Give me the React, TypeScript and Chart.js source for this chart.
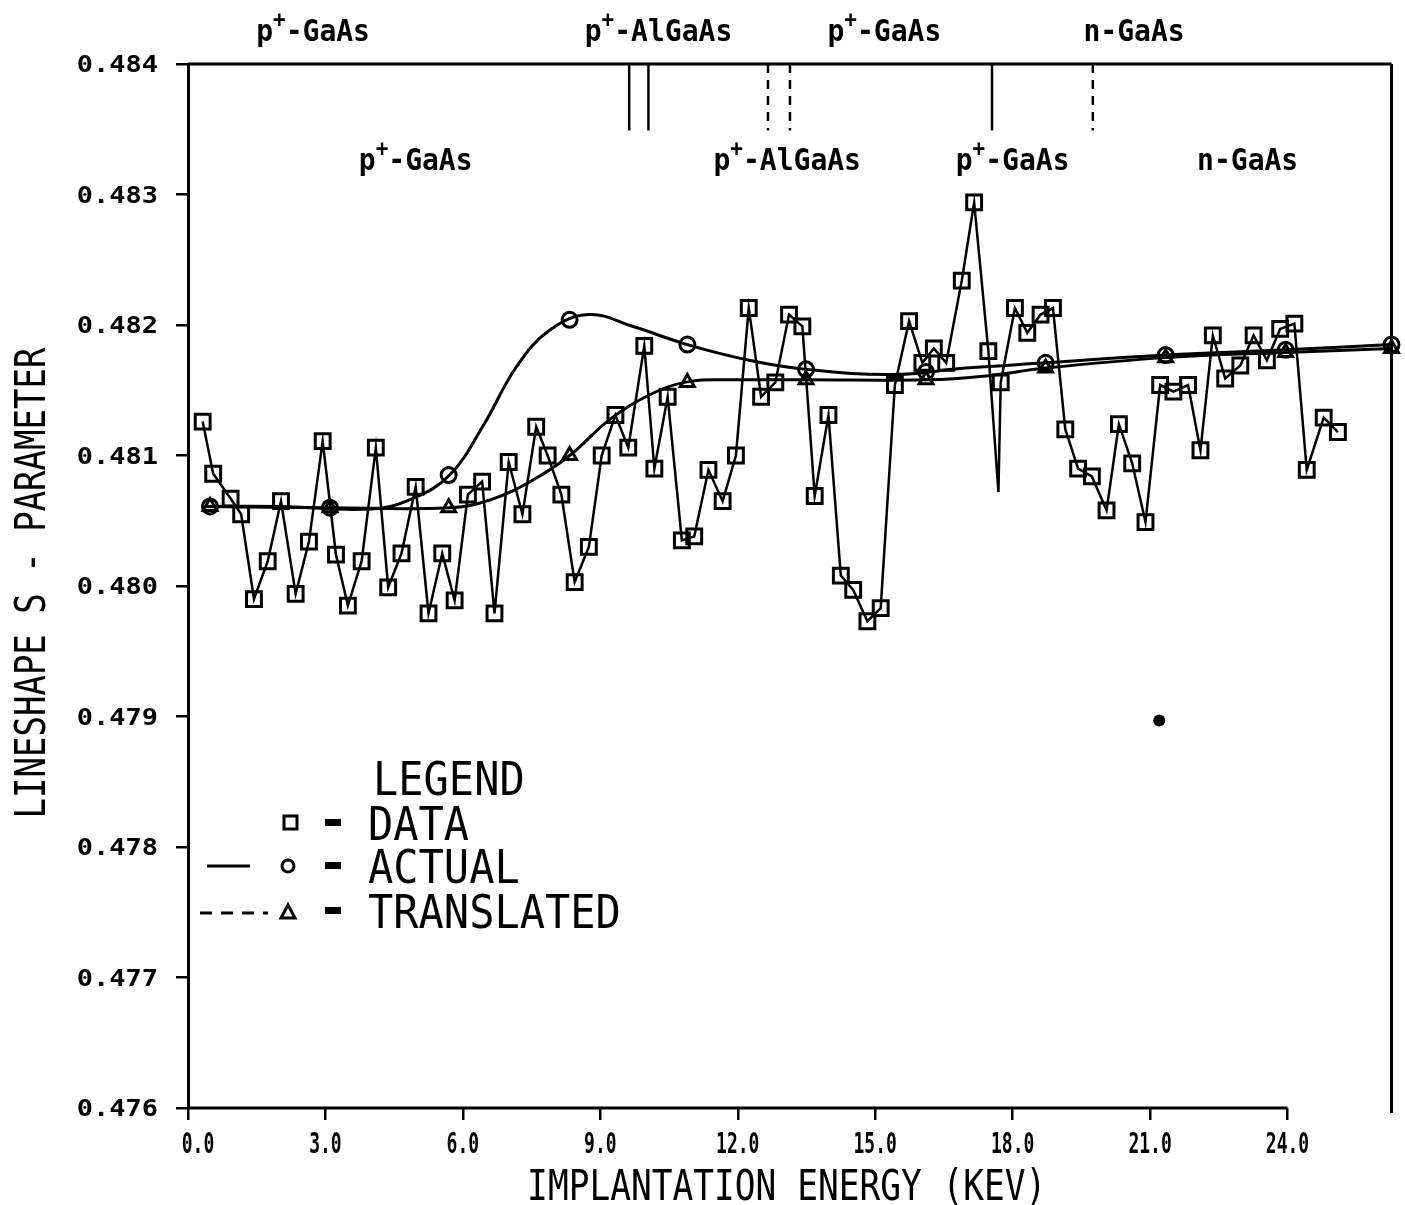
import React, { useEffect, useRef } from "react";
import { Chart, registerables } from "chart.js";
Chart.register(...registerables);

// ---------- data ----------
const DATA_X = [
  0.32, 0.55, 0.93, 1.16, 1.44, 1.74, 2.03, 2.35, 2.64, 2.94,
  3.23, 3.49, 3.79, 4.10, 4.37, 4.66, 4.97, 5.25, 5.55, 5.82,
  6.11, 6.42, 6.69, 7.00, 7.30, 7.60, 7.85, 8.15, 8.44, 8.75,
  9.03, 9.33, 9.61, 9.96, 10.18, 10.47, 10.78, 11.05, 11.36, 11.67,
  11.96, 12.24, 12.51, 12.82, 13.12, 13.41, 13.68, 13.98, 14.25, 14.52,
  14.83, 15.12, 15.43, 15.74, 16.03, 16.28, 16.55, 16.89, 17.16, 17.47,
  17.69, 17.74, 18.05, 18.32, 18.61, 18.88, 19.15, 19.43, 19.73, 20.05,
  20.32, 20.61, 20.90, 21.22, 21.51, 21.83, 22.10, 22.37, 22.64, 22.97,
  23.26, 23.55, 23.84, 24.15, 24.42, 24.79, 25.10,
];
const DATA_Y = [
  0.48126, 0.48086, 0.48067, 0.48055, 0.47990, 0.48019, 0.48065, 0.47994, 0.48034, 0.48111,
  0.48024, 0.47985, 0.48019, 0.48106, 0.47999, 0.48025, 0.48076, 0.47979, 0.48025, 0.47989,
  0.48070, 0.48080, 0.47979, 0.48095, 0.48055, 0.48122, 0.48100, 0.48070, 0.48003, 0.48030,
  0.48100, 0.48131, 0.48106, 0.48184, 0.48090, 0.48145, 0.48035, 0.48038, 0.48089, 0.48065,
  0.48100, 0.48213, 0.48145, 0.48156, 0.48208, 0.48199, 0.48069, 0.48131, 0.48008, 0.47997,
  0.47973, 0.47983, 0.48154, 0.48203, 0.48171, 0.48182, 0.48171, 0.48234, 0.48294, 0.48180,
  0.48072, 0.48156, 0.48213, 0.48194, 0.48208, 0.48213, 0.48120, 0.48090, 0.48084, 0.48058,
  0.48124, 0.48094, 0.48049, 0.48154, 0.48149, 0.48154, 0.48104, 0.48192, 0.48159, 0.48169,
  0.48192, 0.48173, 0.48197, 0.48201, 0.48089, 0.48129, 0.48118,
];
const DATA_NO_MARKER_INDEX = 60;

const ACTUAL_CURVE_X = [0.33, 2.0, 4.0, 4.9, 5.71, 6.43, 7.17, 7.89, 8.75, 9.70, 10.90, 12.25, 13.49, 15.37, 16.98, 18.72, 21.34, 23.96, 26.27];
const ACTUAL_CURVE_Y = [0.48061, 0.48061, 0.48059, 0.48067, 0.48085, 0.48122, 0.48168, 0.48196, 0.48208, 0.48199, 0.48185, 0.48173, 0.48166, 0.48162, 0.48167, 0.48171, 0.48177, 0.48181, 0.48185];
const ACTUAL_MARK_X = [0.48, 3.10, 5.69, 8.33, 10.90, 13.49, 16.11, 18.72, 21.34, 23.96, 26.27];
const ACTUAL_MARK_Y = [0.48061, 0.48060, 0.48085, 0.48204, 0.48185, 0.48166, 0.48164, 0.48171, 0.48177, 0.48181, 0.48185];

const TRANS_CURVE_X = [0.33, 3.1, 5.69, 6.6, 7.52, 8.33, 9.26, 10.29, 11.0, 11.8, 13.49, 16.11, 17.42, 18.72, 21.34, 23.96, 26.27];
const TRANS_CURVE_Y = [0.48061, 0.48060, 0.48060, 0.48066, 0.48081, 0.48100, 0.48129, 0.48150, 0.48157, 0.48158, 0.48158, 0.48158, 0.48161, 0.48167, 0.48175, 0.48179, 0.48182];
const TRANS_MARK_X = [0.48, 3.10, 5.69, 8.33, 10.90, 13.49, 16.11, 18.72, 21.34, 23.96, 26.27];
const TRANS_MARK_Y = [0.48061, 0.48060, 0.48060, 0.48100, 0.48156, 0.48158, 0.48158, 0.48167, 0.48175, 0.48179, 0.48182];

const STRAY_X = [21.2];
const STRAY_Y = [0.47897];

const BOUNDARY_X = [9.63, 10.05, 12.66, 13.14, 17.55, 19.75];
const BOUNDARY_DASHED = [false, false, true, true, false, true];
const BOUNDARY_TOP = 0.484;
const BOUNDARY_BOTTOM = 0.48349;

const X_TICKS = [0, 3, 6, 9, 12, 15, 18, 21, 24];
const X_TICK_LABELS = ["0.0", "3.0", "6.0", "9.0", "12.0", "15.0", "18.0", "21.0", "24.0"];
const Y_TICKS = [0.476, 0.477, 0.478, 0.479, 0.48, 0.481, 0.482, 0.483, 0.484];
const Y_TICK_LABELS = ["0.476", "0.477", "0.478", "0.479", "0.480", "0.481", "0.482", "0.483", "0.484"];
const X_MIN = 0;
const X_MAX = 26.27;

const LAYER_BASE = ["p", "p", "p", "n"];
const LAYER_SUP = ["+", "+", "+", ""];
const LAYER_REST = ["-GaAs", "-AlGaAs", "-GaAs", "-GaAs"];
const LAYER_TOP_X = [2.73, 10.27, 15.2, 20.65];
const LAYER_BOTTOM_X = [4.97, 13.08, 18.0, 23.13];

const X_TITLE = "IMPLANTATION ENERGY (KEV)";
const Y_TITLE = "LINESHAPE S - PARAMETER";
const LEGEND_TITLE = "LEGEND";
const LEGEND_NAMES = ["DATA", "ACTUAL", "TRANSLATED"];

const MONO = '"DejaVu Sans Mono", "Liberation Mono", monospace';

function pts(xs: number[], ys: number[]) {
  return xs.map((x, i) => ({ x, y: ys[i] }));
}

function txt(ctx: CanvasRenderingContext2D, s: string, x: number, y: number, size: number, sy: number, align: CanvasTextAlign = "left", weight = "normal") {
  ctx.save();
  ctx.translate(x, y);
  ctx.scale(1, sy);
  ctx.font = `${weight} ${size}px ${MONO}`;
  ctx.textAlign = align;
  ctx.textBaseline = "alphabetic";
  ctx.fillStyle = "#000";
  ctx.fillText(s, 0, 0);
  ctx.restore();
}

function layerLabel(ctx: CanvasRenderingContext2D, base: string, sup: string, rest: string, cx: number, baseline: number) {
  const size = 28;
  const supSize = 21;
  ctx.save();
  ctx.font = `bold ${size}px ${MONO}`;
  const wb = ctx.measureText(base).width;
  const wr = ctx.measureText(rest).width;
  ctx.font = `bold ${supSize}px ${MONO}`;
  const ws = sup ? ctx.measureText(sup).width : 0;
  ctx.restore();
  const total = wb + ws + wr;
  let x = cx - total / 2;
  txt(ctx, base, x, baseline, size, 1.1, "left", "bold");
  x += wb;
  if (sup) {
    txt(ctx, sup, x, baseline - 14, supSize, 1.1, "left", "bold");
    x += ws;
  }
  txt(ctx, rest, x, baseline, size, 1.1, "left", "bold");
}

const decor = {
  id: "decor",
  afterDraw(chart: any) {
    const { ctx, chartArea: a, scales } = chart;
    const xs = scales.x;
    const ys = scales.y;
    ctx.save();
    ctx.strokeStyle = "#000";
    ctx.lineWidth = 3;
    ctx.beginPath();
    ctx.moveTo(a.left, a.top);
    ctx.lineTo(a.right, a.top);
    ctx.moveTo(a.right, a.top);
    ctx.lineTo(a.right, a.bottom + 5);
    ctx.moveTo(a.left, a.bottom);
    ctx.lineTo(xs.getPixelForValue(X_TICKS[X_TICKS.length - 1]), a.bottom);
    ctx.stroke();
    ctx.restore();

    // tick labels
    X_TICKS.forEach((v, i) => {
      txt(ctx, X_TICK_LABELS[i], xs.getPixelForValue(v) + (i === 0 ? 10 : 0), a.bottom + 45, 18, 1.6, "center", "bold");
    });
    Y_TICKS.forEach((v, i) => {
      txt(ctx, Y_TICK_LABELS[i], a.left - 30, ys.getPixelForValue(v) + 8, 27, 0.82, "right", "bold");
    });

    // axis titles
    txt(ctx, X_TITLE, (a.left + a.right) / 2 - 3, a.bottom + 92, 34.5, 1.25, "center");
    ctx.save();
    ctx.translate(45, 583);
    ctx.rotate(-Math.PI / 2);
    ctx.scale(1, 1.25);
    ctx.font = `normal 34px ${MONO}`;
    ctx.textAlign = "center";
    ctx.fillStyle = "#000";
    ctx.fillText(Y_TITLE, 0, 0);
    ctx.restore();

    // layer labels
    LAYER_TOP_X.forEach((v, i) => layerLabel(ctx, LAYER_BASE[i], LAYER_SUP[i], LAYER_REST[i], xs.getPixelForValue(v), a.top - 23));
    LAYER_BOTTOM_X.forEach((v, i) => layerLabel(ctx, LAYER_BASE[i], LAYER_SUP[i], LAYER_REST[i], xs.getPixelForValue(v), a.top + 106));

    // legend
    const lx = 368;
    txt(ctx, LEGEND_TITLE, lx + 5, 795, 42, 1.1, "left");
    const rows = [840, 883, 928];
    ctx.save();
    ctx.fillStyle = "#000";
    LEGEND_NAMES.forEach((n, i) => {
      txt(ctx, n, lx, rows[i], 42, 1.1, "left");
      ctx.fillRect(325, rows[i] - 21, 16, 7);
    });
    ctx.restore();
    ctx.save();
    ctx.strokeStyle = "#000";
    ctx.lineWidth = 3;
    ctx.strokeRect(284, 816, 13, 13);
    ctx.beginPath();
    ctx.arc(288, 866, 6, 0, Math.PI * 2);
    ctx.stroke();
    ctx.beginPath();
    ctx.moveTo(207, 866);
    ctx.lineTo(250, 866);
    ctx.stroke();
    ctx.beginPath();
    ctx.moveTo(281, 918);
    ctx.lineTo(295, 918);
    ctx.lineTo(288, 905);
    ctx.closePath();
    ctx.stroke();
    ctx.setLineDash([12, 9]);
    ctx.beginPath();
    ctx.moveTo(200, 913);
    ctx.lineTo(268, 913);
    ctx.stroke();
    ctx.restore();
  },
};

export default function App() {
  const ref = useRef<HTMLCanvasElement | null>(null);
  useEffect(() => {
    document.body.style.margin = "0";
    const boundarySets = BOUNDARY_X.map((bx, i) => ({
      data: [{ x: bx, y: BOUNDARY_TOP }, { x: bx, y: BOUNDARY_BOTTOM }],
      showLine: true,
      borderColor: "#000",
      borderWidth: 2.5,
      borderDash: BOUNDARY_DASHED[i] ? [9, 7] : [],
      pointRadius: 0,
    }));
    const chart = new Chart(ref.current as HTMLCanvasElement, {
      type: "scatter",
      data: {
        datasets: [
          {
            data: pts(DATA_X, DATA_Y),
            showLine: true,
            borderColor: "#000",
            borderWidth: 2.5,
            pointStyle: "rect",
            pointRadius: (c: any) => (c.dataIndex === DATA_NO_MARKER_INDEX ? 0 : 10.5),
            pointBorderWidth: 3,
            pointBorderColor: "#000",
            pointBackgroundColor: "rgba(0,0,0,0)",
            clip: false,
          },
          {
            data: pts(ACTUAL_CURVE_X, ACTUAL_CURVE_Y),
            showLine: true,
            borderColor: "#000",
            borderWidth: 3,
            tension: 0.4,
            pointRadius: 0,
            clip: false,
          },
          {
            data: pts(ACTUAL_MARK_X, ACTUAL_MARK_Y),
            showLine: false,
            pointStyle: "circle",
            pointRadius: 7.5,
            pointBorderWidth: 3,
            pointBorderColor: "#000",
            pointBackgroundColor: "rgba(0,0,0,0)",
            clip: false,
          },
          {
            data: pts(TRANS_CURVE_X, TRANS_CURVE_Y),
            showLine: true,
            borderColor: "#000",
            borderWidth: 3,
            tension: 0.4,
            pointRadius: 0,
            clip: false,
          },
          {
            data: pts(TRANS_MARK_X, TRANS_MARK_Y),
            showLine: false,
            pointStyle: "triangle",
            pointRadius: 8,
            pointBorderWidth: 3,
            pointBorderColor: "#000",
            pointBackgroundColor: "rgba(0,0,0,0)",
            clip: false,
          },
          {
            data: pts(STRAY_X, STRAY_Y),
            showLine: false,
            pointStyle: "circle",
            pointRadius: 6,
            pointBorderWidth: 0,
            pointBackgroundColor: "#000",
          },
          ...boundarySets,
        ] as any,
      },
      options: {
        animation: false,
        responsive: true,
        maintainAspectRatio: false,
        layout: { padding: { left: 0, top: 64, right: 12, bottom: 0 } },
        plugins: { legend: { display: false }, tooltip: { enabled: false } },
        scales: {
          x: {
            type: "linear",
            min: X_MIN,
            max: X_MAX,
            afterBuildTicks: (s: any) => {
              s.ticks = X_TICKS.map((v) => ({ value: v }));
            },
            afterFit: (s: any) => {
              s.height = 97;
            },
            border: { display: false },
            grid: { drawOnChartArea: false, drawTicks: true, tickLength: 12, color: "#000", lineWidth: 2.5 },
            ticks: { color: "rgba(0,0,0,0)", maxRotation: 0, autoSkip: false },
          },
          y: {
            type: "linear",
            min: 0.476,
            max: 0.484,
            afterBuildTicks: (s: any) => {
              s.ticks = Y_TICKS.map((v) => ({ value: v }));
            },
            afterFit: (s: any) => {
              s.width = 188;
            },
            border: { display: true, color: "#000", width: 3 },
            grid: { drawOnChartArea: false, drawTicks: true, tickLength: 12, color: "#000", lineWidth: 2.5 },
            ticks: { color: "rgba(0,0,0,0)", autoSkip: false },
          },
        },
      } as any,
      plugins: [decor],
    });
    return () => chart.destroy();
  }, []);
  return (
    <div style={{ position: "fixed", left: 0, top: 0, width: 1405, height: 1205, background: "#fff" }}>
      <canvas ref={ref} />
    </div>
  );
}
